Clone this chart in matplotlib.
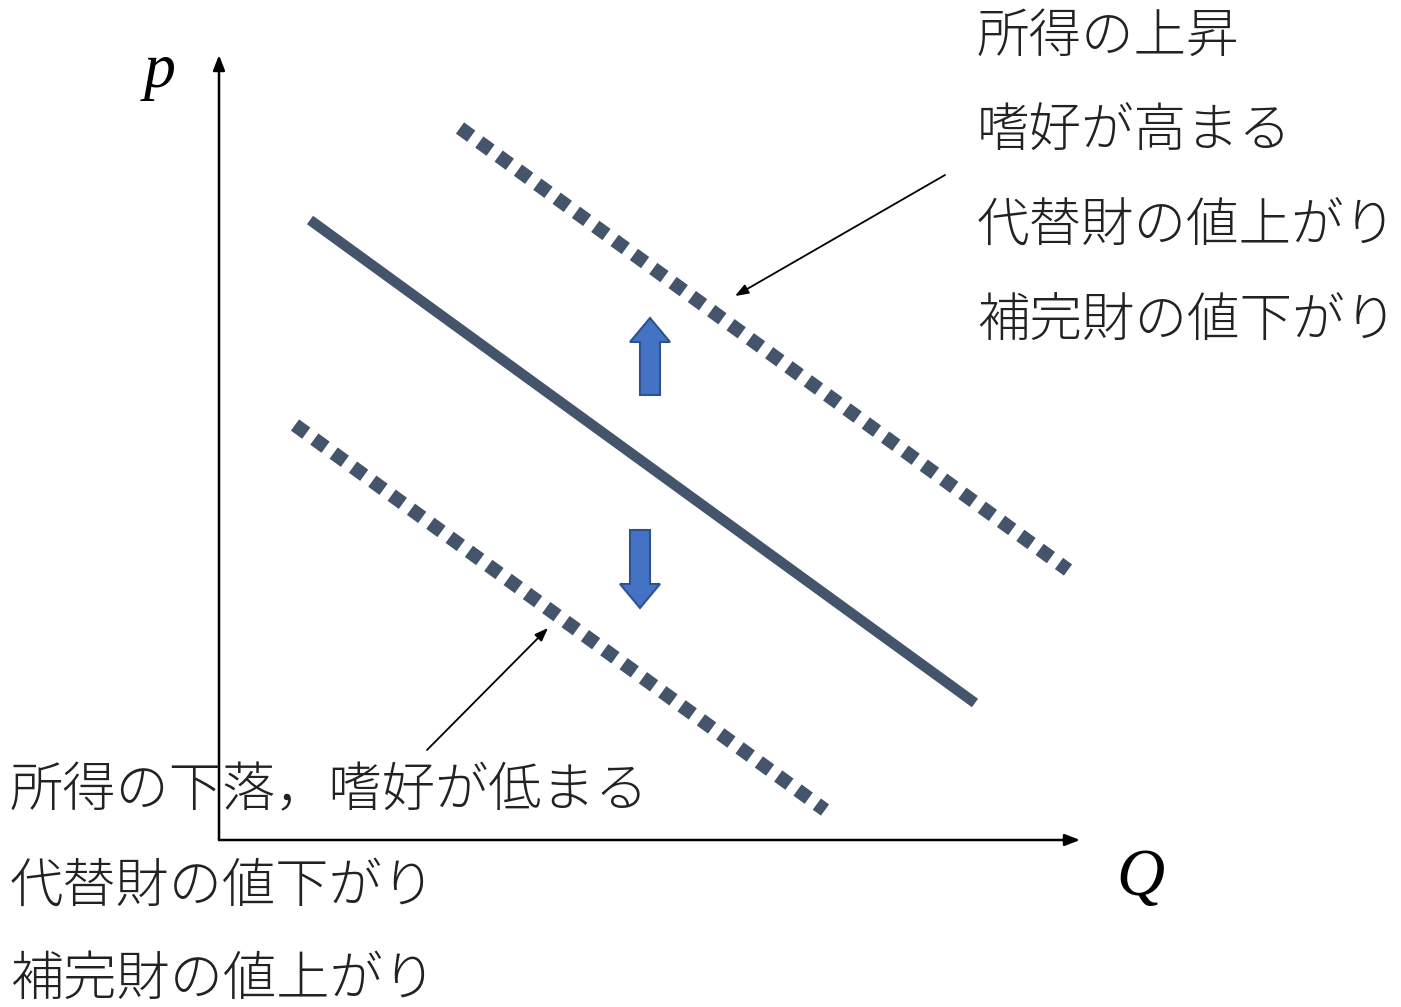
import matplotlib
matplotlib.use("Agg")
import matplotlib.pyplot as plt
from matplotlib.patches import FancyArrow

plt.rcParams['font.family'] = ['Noto Sans CJK JP', 'DejaVu Sans']

# diagram drawn in a pixel-like frame: x to the right, y downward
W, H = 1401, 1007
axis_origin = (219, 840)
p_axis_end = (219, 55)
q_axis_end = (1080, 840)

demand = [(310, 220), (975, 703)]
demand_up = [(460, 128), (1068, 570)]
demand_down = [(295, 425), (825, 810)]

shift_up = (650, 395, 318)    # x, tail y, tip y
shift_down = (640, 530, 608)

note_up_arrow = [(945, 175), (735, 296)]
note_down_arrow = [(427, 750), (548, 628)]

labels_up = ["所得の上昇", "嗜好が高まる", "代替財の値上がり", "補完財の値下がり"]
labels_up_y = [37, 132, 227, 322]
labels_down = ["所得の下落，嗜好が低まる", "代替財の値下がり", "補完財の値上がり"]
labels_down_y = [792, 887, 980]

line_col = "#44546A"
arrow_fill = "#4472C4"
arrow_edge = "#2F528F"

fig = plt.figure(figsize=(W / 100, H / 100), dpi=100)
ax = fig.add_axes([0, 0, 1, 1])
ax.set_xlim(0, W)
ax.set_ylim(H, 0)
ax.axis("off")

# axes with arrow heads
for end in (p_axis_end, q_axis_end):
    ax.annotate("", xy=end, xytext=axis_origin,
                arrowprops=dict(arrowstyle="-|>,head_length=0.9,head_width=0.35",
                                color="black", lw=1.8, shrinkA=0, shrinkB=0))

ax.text(160, 72, "p", fontsize=46, style="italic", family="Liberation Serif",
        ha="center", va="center")
ax.text(1140, 878, "Q", fontsize=48, style="italic", family="Liberation Serif",
        ha="center", va="center")

# original demand curve and the shifted ones
xs, ys = zip(*demand)
ax.plot(xs, ys, color=line_col, lw=7.5, solid_capstyle="butt")
for seg in (demand_up, demand_down):
    xs, ys = zip(*seg)
    ax.plot(xs, ys, color=line_col, lw=10, linestyle=(0, (1, 0.72)),
            dash_capstyle="butt")

# block arrows showing the shift direction
for x, y0, y1 in (shift_up, shift_down):
    ax.add_patch(FancyArrow(x, y0, 0, y1 - y0, width=20, head_width=40,
                            head_length=24, length_includes_head=True,
                            fc=arrow_fill, ec=arrow_edge, lw=1.5))

# pointers from the explanations to the curves
for a, b in (note_up_arrow, note_down_arrow):
    ax.annotate("", xy=b, xytext=a,
                arrowprops=dict(arrowstyle="-|>,head_length=0.8,head_width=0.3",
                                color="black", lw=1.3, shrinkA=0, shrinkB=0))

for s, y in zip(labels_up, labels_up_y):
    ax.text(977, y, s, fontsize=37.8, ha="left", va="center", color="#222222",
            fontweight="light")
for s, y in zip(labels_down, labels_down_y):
    ax.text(10, y, s, fontsize=38.3, ha="left", va="center", color="#222222",
            fontweight="light")

fig.savefig("out.png", dpi=100)
